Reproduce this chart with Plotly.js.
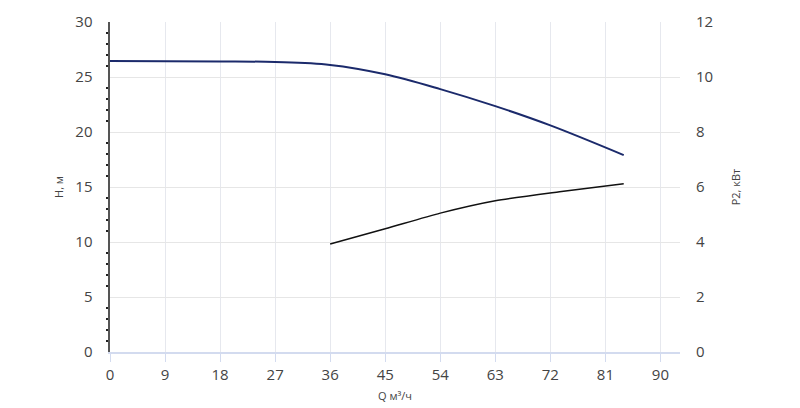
<!DOCTYPE html>
<html><head><meta charset="utf-8">
<script src="https://cdn.plot.ly/plotly-3.0.1.min.js"></script>
<style>html,body{margin:0;padding:0;background:#fff}#chart{width:800px;height:408px}</style>
</head><body><div id="chart"></div>
<script>
const qHead = [0, 18, 27, 36, 45, 54, 63, 72, 84];
const head = [26.45, 26.42, 26.36, 26.1, 25.25, 23.9, 22.35, 20.6, 17.9];
const qPower = [36, 45, 54, 63, 73.5, 84];
const power = [3.93, 4.48, 5.05, 5.5, 5.83, 6.12];
const xTitle = 'Q м³/ч';
const yTitle = 'Н, м';
const y2Title = 'P2, кВт';

const font = {family: '"Open Sans", "Noto Sans", sans-serif', color: '#444'};
const data = [
  {x: qHead, y: head, type: 'scatter', mode: 'lines', line: {color: '#1b2a6b', width: 2, shape: 'spline', smoothing: 1}, hoverinfo: 'skip'},
  {x: qPower, y: power, yaxis: 'y2', type: 'scatter', mode: 'lines', line: {color: '#111', width: 1.5, shape: 'spline', smoothing: 0.7}, hoverinfo: 'skip'}
];
const layout = {
  width: 800, height: 408,
  margin: {l: 110, r: 120, t: 22, b: 56},
  paper_bgcolor: '#fff', plot_bgcolor: '#fff',
  showlegend: false,
  font: Object.assign({size: 15}, font),
  xaxis: {
    range: [0, 93.2], dtick: 9, tick0: 0,
    showline: true, linecolor: '#d3dbef', linewidth: 1.5,
    ticks: 'outside', ticklen: 8, tickcolor: '#d3dbef', tickwidth: 1,
    showgrid: true, gridcolor: '#e6e8ee', gridwidth: 1,
    zeroline: false,
    tickfont: {size: 15, color: '#444'},
    title: {text: xTitle, font: {size: 11, color: '#444'}, standoff: 10}
  },
  yaxis: {
    range: [0, 30], dtick: 5,
    showline: true, linecolor: '#555', linewidth: 2.5,
    ticks: 'outside', ticklen: 12, tickcolor: 'rgba(0,0,0,0)',
    minor: {dtick: 1, ticks: 'outside', ticklen: 2, tickcolor: '#222', tickwidth: 2, showgrid: false},
    showgrid: true, gridcolor: '#e6e6e6', gridwidth: 1,
    zeroline: false,
    tickfont: {size: 15, color: '#444'},
    title: {text: yTitle, font: {size: 11, color: '#444'}, standoff: 10}
  },
  yaxis2: {
    range: [0, 12], dtick: 2, overlaying: 'y', side: 'right',
    showline: false, showgrid: false, zeroline: false,
    ticks: 'outside', ticklen: 12, tickcolor: 'rgba(0,0,0,0)',
    tickfont: {size: 15, color: '#444'},
    title: {text: y2Title, font: {size: 11, color: '#444'}, standoff: 20}
  }
};
Plotly.newPlot('chart', data, layout, {staticPlot: true, displayModeBar: false});
</script></body></html>
